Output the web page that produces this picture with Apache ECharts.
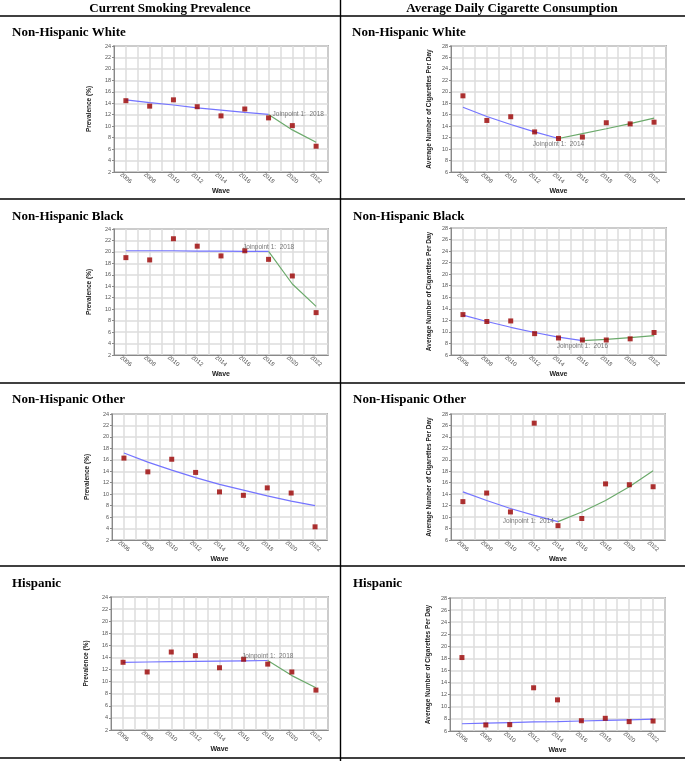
<!DOCTYPE html>
<html>
<head>
<meta charset="utf-8">
<script src="https://cdn.jsdelivr.net/npm/echarts@6/dist/echarts.min.js"></script>
<style>
html,body{margin:0;padding:0;background:#fff;}
#chart{width:685px;height:761px;}
</style>
</head>
<body>
<div id="chart"></div>
<script>
// ---------- data ----------
const waves = [2006, 2008, 2010, 2012, 2014, 2016, 2018, 2020, 2022];
const prevTickRange = [2, 24];
const cigTickRange = [6, 28];

// Current smoking prevalence (%)
const prevWhiteObs  = [14.45, 13.5, 14.6, 13.4, 11.8, 13.0, 11.45, 10.1, 6.5];
const prevWhiteFit1 = [14.6, 14.1, 13.7, 13.2, 12.8, 12.4, 12.05];
const prevWhiteFit2 = [12.05, 9.35, 7.2];

const prevBlackObs  = [19.0, 18.6, 22.3, 21.0, 19.3, 20.2, 18.7, 15.8, 9.4];
const prevBlackFit1 = [20.2, 20.2, 20.2, 20.15, 20.15, 20.1, 20.1];
const prevBlackFit2 = [20.1, 14.4, 10.5];

const prevOtherObs  = [16.3, 13.9, 16.1, 13.8, 10.4, 9.8, 11.1, 10.2, 4.3];
const prevOtherFit  = [17.2, 15.6, 14.2, 12.9, 11.7, 10.7, 9.7, 8.8, 8.0];

const prevHispObs   = [13.2, 11.6, 14.9, 14.3, 12.3, 13.7, 12.9, 11.6, 8.6];
const prevHispFit1  = [13.2, 13.25, 13.3, 13.35, 13.4, 13.45, 13.5];
const prevHispFit2  = [13.5, 11.0, 9.0];

// Average daily cigarette consumption
const cigWhiteObs  = [19.3, 15.0, 15.65, 13.0, 11.85, 12.1, 14.6, 14.4, 14.7];
const cigWhiteFit1 = [17.3, 15.7, 14.3, 13.0, 11.85];
const cigWhiteFit2 = [11.85, 12.7, 13.55, 14.45, 15.4];

const cigBlackObs  = [13.0, 11.8, 11.9, 9.7, 8.95, 8.6, 8.6, 8.8, 9.9];
const cigBlackFit1 = [12.9, 11.8, 10.8, 9.9, 9.1, 8.5];
const cigBlackFit2 = [8.5, 8.7, 9.0, 9.35];

const cigOtherObs  = [12.7, 14.2, 10.9, 26.4, 8.5, 9.75, 15.8, 15.65, 15.3];
const cigOtherFit1 = [14.4, 12.9, 11.5, 10.3, 9.2];
const cigOtherFit2 = [9.2, 10.9, 12.9, 15.3, 18.1];

const cigHispObs   = [18.15, 7.0, 7.05, 13.15, 11.15, 7.7, 8.1, 7.55, 7.65];
const cigHispFit   = [7.2, 7.3, 7.4, 7.5, 7.55, 7.65, 7.75, 7.85, 7.95];

// ---------- layout ----------
const panels = [
  {title:'Non-Hispanic White', tx:12, ty:33, grid:{left:114, top:46, width:214, height:126}, kind:'prev',
   obs:prevWhiteObs, fit1:prevWhiteFit1, fit2:prevWhiteFit2, lab:{position:'right', distance:4}},
  {title:'Non-Hispanic Black', tx:12, ty:217, grid:{left:114, top:229, width:214, height:126}, kind:'prev',
   obs:prevBlackObs, fit1:prevBlackFit1, fit2:prevBlackFit2, lab:{position:'top', distance:1}},
  {title:'Non-Hispanic Other', tx:12, ty:400, grid:{left:112, top:414, width:215, height:126}, kind:'prev',
   obs:prevOtherObs, fit1:prevOtherFit, fit2:null, lab:null},
  {title:'Hispanic', tx:12, ty:584, grid:{left:111, top:597, width:217, height:133}, kind:'prev',
   obs:prevHispObs, fit1:prevHispFit1, fit2:prevHispFit2, lab:{position:'top', distance:1}},
  {title:'Non-Hispanic White', tx:352, ty:33, grid:{left:451, top:46, width:215, height:126}, kind:'cig',
   obs:cigWhiteObs, fit1:cigWhiteFit1, fit2:cigWhiteFit2, lab:{position:'bottom', distance:2}},
  {title:'Non-Hispanic Black', tx:353, ty:217, grid:{left:451, top:228, width:215, height:127}, kind:'cig',
   obs:cigBlackObs, fit1:cigBlackFit1, fit2:cigBlackFit2, lab:{position:'bottom', distance:2}},
  {title:'Non-Hispanic Other', tx:353, ty:400, grid:{left:451, top:414, width:214, height:126}, kind:'cig',
   obs:cigOtherObs, fit1:cigOtherFit1, fit2:cigOtherFit2, lab:{position:'left', distance:4}},
  {title:'Hispanic', tx:353, ty:584, grid:{left:450, top:598, width:215, height:133}, kind:'cig',
   obs:cigHispObs, fit1:cigHispFit, fit2:null, lab:null}
];

const serif = '"Liberation Serif","Times New Roman",serif';
const sans = '"Liberation Sans",Arial,sans-serif';
const grids = [], xAxes = [], yAxes = [], series = [];

panels.forEach((p, i) => {
  grids.push(Object.assign({show:true, borderColor:'#7a7a7a', borderWidth:1.5, backgroundColor:'#fff'}, p.grid));
  xAxes.push({
    type:'value', gridIndex:i, min:2005, max:2023, interval:1,
    name:'Wave', nameLocation:'middle', nameGap:16,
    nameTextStyle:{fontFamily:sans, fontWeight:'bold', fontSize:7, color:'#222'},
    axisLine:{show:true, lineStyle:{color:'#888', width:1}},
    axisTick:{show:false},
    axisLabel:{
      formatter:v => (v % 2 === 0 && waves.indexOf(v) >= 0) ? String(v) : '',
      rotate:-40, fontSize:6, color:'#555', margin:6, fontFamily:sans,
      align:'center', verticalAlign:'middle'
    },
    splitLine:{show:true, lineStyle:{color:'#dcdcdc', width:1.5}}
  });
  const rng = p.kind === 'prev' ? prevTickRange : cigTickRange;
  yAxes.push({
    type:'value', gridIndex:i, min:rng[0], max:rng[1], interval:2,
    name: p.kind === 'prev' ? 'Prevalence (%)' : 'Average Number of Cigarettes Per Day',
    nameLocation:'middle', nameRotate:90, nameGap: p.kind === 'prev' ? 21 : 18,
    nameTextStyle:{fontFamily:sans, fontWeight:'bold', fontSize:6.5, color:'#222'},
    axisLine:{show:true, lineStyle:{color:'#888', width:1}},
    axisTick:{show:true, length:2, lineStyle:{color:'#888'}},
    axisLabel:{fontSize:5.5, color:'#555', margin:3, fontFamily:sans},
    splitLine:{show:true, lineStyle:{color:'#dcdcdc', width:1.5}}
  });
  const seg1 = p.fit1.map((v, k) => [waves[k], v]);
  series.push({type:'line', xAxisIndex:i, yAxisIndex:i, data:seg1, symbol:'none',
    lineStyle:{color:'#7474ff', width:1.2}, z:3, silent:true});
  if (p.fit2) {
    const start = p.fit1.length - 1;
    const seg2 = p.fit2.map((v, k) => [waves[start + k], v]);
    series.push({type:'line', xAxisIndex:i, yAxisIndex:i, data:seg2, symbol:'none',
      lineStyle:{color:'#6caa6c', width:1.2}, z:3, silent:true});
  }
  series.push({type:'scatter', xAxisIndex:i, yAxisIndex:i,
    data:p.obs.map((v, k) => [waves[k], v]), symbol:'rect', symbolSize:5,
    itemStyle:{color:'#9a0000'}, z:5, silent:true});
  if (p.lab) {
    const jpIdx = p.fit1.length - 1;
    const jpYear = waves[jpIdx];
    series.push({type:'scatter', xAxisIndex:i, yAxisIndex:i,
      data:[[jpYear, p.fit1[jpIdx]]], symbolSize:0.1, itemStyle:{color:'rgba(0,0,0,0)'}, z:6, silent:true,
      label:{show:true, formatter:'Joinpoint 1:  ' + jpYear, position:p.lab.position, distance:p.lab.distance,
        fontSize:6.5, color:'#555', fontFamily:sans}});
  }
});

const graphic = [];
// headers
graphic.push({type:'text', x:170, y:9, style:{text:'Current Smoking Prevalence', font:'bold 13px ' + serif, fill:'#000', align:'center', verticalAlign:'middle'}});
graphic.push({type:'text', x:512, y:9, style:{text:'Average Daily Cigarette Consumption', font:'bold 13px ' + serif, fill:'#000', align:'center', verticalAlign:'middle'}});
// panel titles
panels.forEach(p => {
  graphic.push({type:'text', x:p.tx, y:p.ty, style:{text:p.title, font:'bold 13px ' + serif, fill:'#000', align:'left', verticalAlign:'middle'}});
});
// table rules
[16, 199, 383, 566, 758].forEach(y => {
  graphic.push({type:'line', shape:{x1:0, y1:y, x2:685, y2:y}, style:{stroke:'#000', lineWidth:1.6}});
});
graphic.push({type:'line', shape:{x1:340.5, y1:0, x2:340.5, y2:761}, style:{stroke:'#000', lineWidth:1.4}});

const chart = echarts.init(document.getElementById('chart'), null, {renderer:'canvas'});
chart.setOption({
  animation:false,
  backgroundColor:'#fff',
  grid:grids, xAxis:xAxes, yAxis:yAxes, series:series, graphic:graphic
});
</script>
</body>
</html>
